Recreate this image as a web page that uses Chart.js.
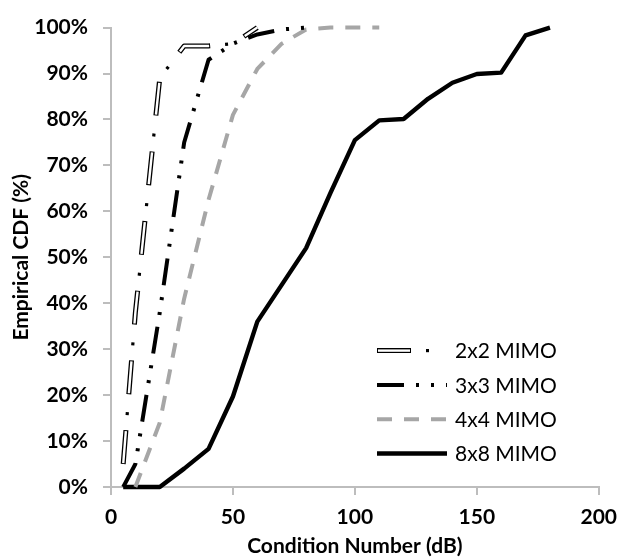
<!DOCTYPE html>
<html>
<head>
<meta charset="utf-8">
<script src="https://cdn.jsdelivr.net/npm/chart.js@4"></script>
<style>
  html, body { margin: 0; padding: 0; background: #fff; }
</style>
</head>
<body>
<canvas id="cdf" width="627" height="560"></canvas>
<script>
// condition number (dB) vs empirical CDF (%) for each antenna config
const x2 = [5, 10, 20, 25, 30, 40, 50, 60];
const cdf2 = [5, 38, 89, 92.5, 96, 96, 96.5, 100];

const x3 = [5, 8, 10, 20, 30, 40, 50, 60, 70, 80];
const cdf3 = [0, 3, 5, 38, 75, 93, 96.5, 98.5, 99.6, 100];

const x4 = [10, 20, 30, 40, 50, 60, 70, 80, 90, 100, 110];
const cdf4 = [0, 14, 41, 62.5, 81, 91, 96.5, 99.6, 100, 100, 100];

const x8 = [5, 10, 20, 30, 40, 50, 60, 70, 80, 90, 100, 110, 120, 130, 140, 150, 160, 170, 180];
const cdf8 = [0, 0, 0, 4, 8.3, 19.7, 36, 44, 52, 64, 75.5, 79.8, 80.1, 84.5, 88, 89.9, 90.2, 98.3, 100];

const seriesLabels = ['2x2 MIMO', '3x3 MIMO', '4x4 MIMO', '8x8 MIMO'];
const xTicks = [0, 50, 100, 150, 200];

const axisGray = '#bdbdbd';
const font = 'Lato';
const fontSize = 21;

function pts(xs, ys) {
  return xs.map((x, i) => ({x: x, y: ys[i]}));
}

function series(label, xs, ys, extra) {
  return Object.assign({
    label: label,
    data: pts(xs, ys),
    showLine: true,
    pointRadius: 0,
    pointHoverRadius: 0,
    tension: 0,
    fill: false,
    clip: false,
    borderCapStyle: 'butt',
    borderJoinStyle: 'round',
  }, extra);
}

// draws the line samples + names inside the plot, bottom right
const lineLegend = {
  id: 'lineLegend',
  afterDraw(chart) {
    const ctx = chart.ctx;
    const area = chart.chartArea;
    const x0 = area.left + 266;
    const len = 70;
    const y0 = area.top + 323;
    const step = 34.3;
    const sets = chart.data.datasets.slice().sort((a, b) => b.order - a.order);
    ctx.save();
    sets.forEach(ds => {
      const y = y0 + ds.row * step;
      ctx.beginPath();
      ctx.strokeStyle = ds.borderColor;
      ctx.lineWidth = ds.borderWidth;
      ctx.lineCap = 'butt';
      ctx.setLineDash(ds.borderDash || []);
      ctx.lineDashOffset = ds.borderDashOffset || 0;
      ctx.moveTo(x0, y);
      ctx.lineTo(x0 + len, y);
      ctx.stroke();
      if (ds.legendText) {
        ctx.setLineDash([]);
        ctx.fillStyle = '#000';
        ctx.font = fontSize + 'px ' + font;
        ctx.textAlign = 'left';
        ctx.textBaseline = 'middle';
        ctx.fillText(ds.label, x0 + len + 8, y + 1);
      }
    });
    ctx.restore();
  }
};

// 2x2 pattern (70px): hollow dash 0-34, gap, dot 49-52, gap
const datasets = [
  // white core that makes the 2x2 dashes look hollow
  series(seriesLabels[0], x2, cdf2, {
    borderColor: '#fff', borderWidth: 2.4,
    borderDash: [32, 38], borderDashOffset: -1,
    order: 0, row: 0, legendText: false
  }),
  series(seriesLabels[0], x2, cdf2, {
    borderColor: '#000', borderWidth: 5,
    borderDash: [34, 36],
    order: 1, row: 0, legendText: true
  }),
  // thinner dots between the 2x2 dashes
  series(seriesLabels[0], x2, cdf2, {
    borderColor: '#000', borderWidth: 3.2,
    borderDash: [3, 67], borderDashOffset: -49,
    order: 1, row: 0, legendText: false
  }),
  series(seriesLabels[1], x3, cdf3, {
    borderColor: '#000', borderWidth: 4,
    borderDash: [27, 12, 3, 12, 3, 12],
    order: 2, row: 1, legendText: true
  }),
  series(seriesLabels[2], x4, cdf4, {
    borderColor: '#a6a6a6', borderWidth: 4,
    borderDash: [15, 12],
    order: 3, row: 2, legendText: true
  }),
  series(seriesLabels[3], x8, cdf8, {
    borderColor: '#000', borderWidth: 4.4,
    order: 4, row: 3, legendText: true
  }),
];

const boldFont = { family: font, size: fontSize, weight: 'bold' };

new Chart(document.getElementById('cdf'), {
  type: 'scatter',
  data: { datasets: datasets },
  options: {
    responsive: false,
    animation: false,
    events: [],
    layout: { padding: { top: 20, right: 19, left: 0, bottom: 0 } },
    plugins: {
      legend: { display: false },
      tooltip: { enabled: false }
    },
    scales: {
      x: {
        type: 'linear',
        min: 0,
        max: 200,
        afterBuildTicks(scale) {
          scale.ticks = xTicks.map(v => ({value: v}));
        },
        ticks: {
          color: '#000',
          font: boldFont,
          padding: 10,
          maxRotation: 0
        },
        grid: { drawOnChartArea: false, drawTicks: true, tickLength: 8, color: axisGray, lineWidth: 2 },
        border: { display: true, color: axisGray, width: 2 },
        title: {
          display: true,
          text: 'Condition Number (dB)',
          color: '#000',
          font: boldFont,
          padding: { top: 0, bottom: 1 }
        },
        afterFit(scale) { scale.height = 73; }
      },
      y: {
        type: 'linear',
        min: 0,
        max: 100,
        ticks: {
          stepSize: 10,
          color: '#000',
          font: boldFont,
          padding: 15,
          callback: v => v + '%'
        },
        grid: { drawOnChartArea: false, drawTicks: true, tickLength: 8, color: axisGray, lineWidth: 2 },
        border: { display: true, color: axisGray, width: 2 },
        title: {
          display: true,
          text: 'Empirical CDF (%)',
          color: '#000',
          font: boldFont,
          padding: { top: 9, bottom: 0 }
        },
        afterFit(scale) { scale.width = 111; }
      }
    }
  },
  plugins: [lineLegend]
});
</script>
</body>
</html>
